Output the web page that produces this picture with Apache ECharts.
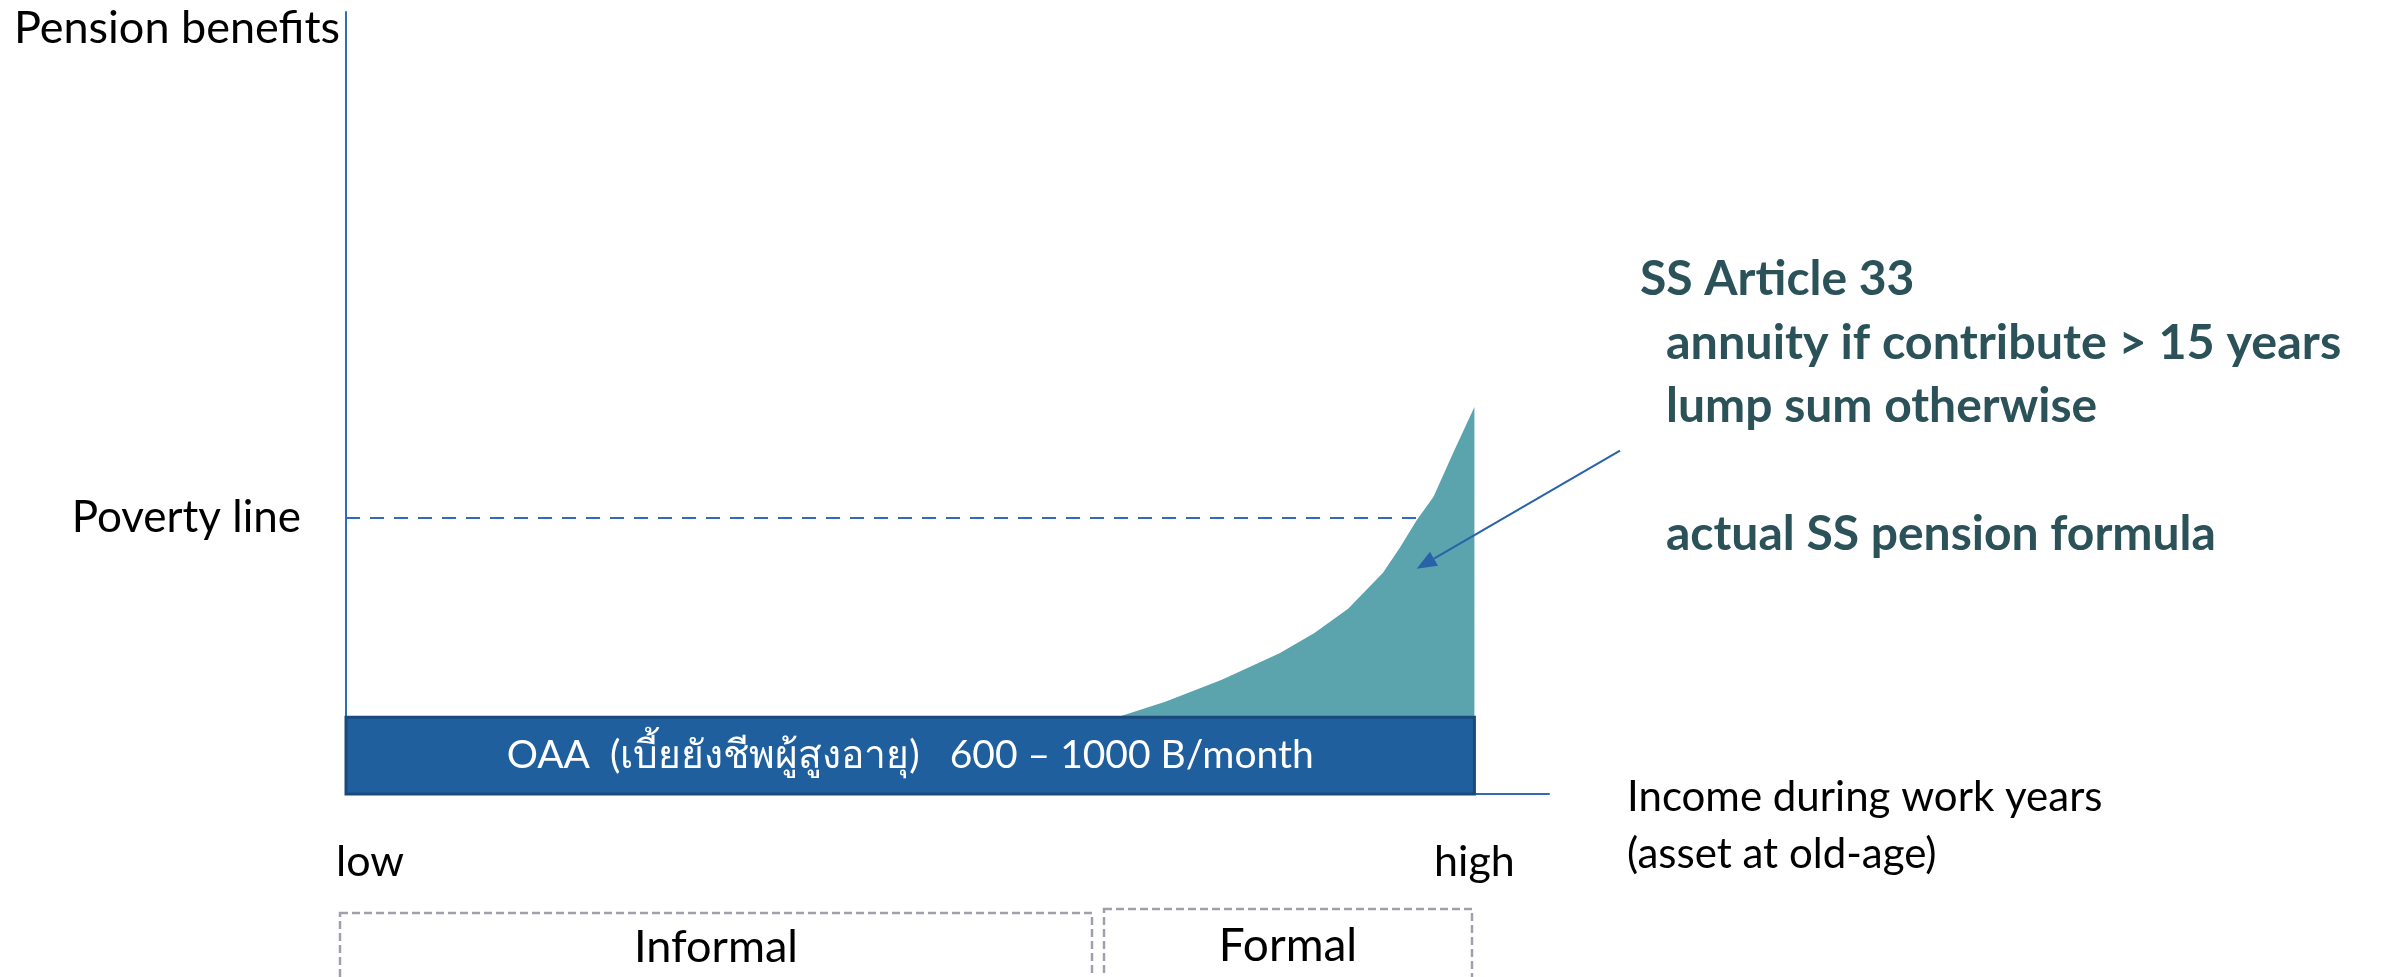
<!DOCTYPE html>
<html>
<head>
<meta charset="utf-8">
<script src="https://cdn.jsdelivr.net/npm/echarts@6/dist/echarts.min.js"></script>
<style>
  html, body { margin: 0; padding: 0; background: #fff; }
  #chart { width: 2381px; height: 977px; }
</style>
</head>
<body>
<div id="chart"></div>
<script>
// Income during work years (0 = low, 100 = end of axis) vs pension benefits (0..100)
const xTickValues = [2.0, 93.8];
const xTickLabels = ['low', 'high'];
const povertyLevel = 35.3;
const povertyTickLabel = 'Poverty line';

// Old-age allowance (flat benefit) band
const oaaStart = 0;
const oaaEnd = 93.8;
const oaaLevel = 9.8;
const oaaLabel = 'OAA  (เบี้ยยังชีพผู้สูงอายุ)   600 – 1000 B/month';

// Social security pension curve (income, benefit)
const ssIncome  = [64.1, 68.1, 72.8, 77.6, 80.5, 83.3, 86.2, 87.6, 89.0, 90.4, 92.0, 93.8];
const ssBenefit = [9.8, 11.8, 14.6, 18.0, 20.6, 23.7, 28.3, 31.5, 35.0, 38.0, 43.5, 49.5];

// Poverty line stops where it meets the pension curve
const povertyEnd = 89.5;

// Arrow pointing at the SS pension area: [from, to]
const arrowFrom = [105.9, 43.9];
const arrowTo = [89.0, 28.8];

const annotationLines = [
  'SS Article 33',
  'annuity if contribute > 15 years',
  'lump sum otherwise',
  'actual SS pension formula'
];

const FONT = 'Lato, "Noto Sans", "DejaVu Sans", sans-serif';
const AXIS_BLUE = '#2f6db4';
const ARROW_BLUE = '#2a62a8';

const chart = echarts.init(document.getElementById('chart'), null, { renderer: 'canvas' });

const ssData = ssIncome.map((x, i) => [x, ssBenefit[i]]);

const textGraphics = [
  {
    type: 'text', x: 340, y: 28,
    style: { text: 'Pension benefits', align: 'right', verticalAlign: 'middle', fill: '#000', font: '45px ' + FONT }
  },
  {
    type: 'text', x: 1627, y: 797,
    style: { text: 'Income during work years', align: 'left', verticalAlign: 'middle', fill: '#000', font: '42px ' + FONT }
  },
  {
    type: 'text', x: 1627, y: 854,
    style: { text: '(asset at old-age)', align: 'left', verticalAlign: 'middle', fill: '#000', font: '42px ' + FONT }
  },
  {
    type: 'text', x: 1640, y: 280,
    style: { text: annotationLines[0], align: 'left', verticalAlign: 'middle', fill: '#2b5159', font: 'bold 48px ' + FONT }
  },
  {
    type: 'text', x: 1666, y: 343,
    style: { text: annotationLines[1], align: 'left', verticalAlign: 'middle', fill: '#2b5159', font: 'bold 48.5px ' + FONT }
  },
  {
    type: 'text', x: 1666, y: 407,
    style: { text: annotationLines[2], align: 'left', verticalAlign: 'middle', fill: '#2b5159', font: 'bold 48px ' + FONT }
  },
  {
    type: 'text', x: 1666, y: 535,
    style: { text: annotationLines[3], align: 'left', verticalAlign: 'middle', fill: '#2b5159', font: 'bold 48px ' + FONT }
  },
  {
    type: 'rect', shape: { x: 340, y: 913, width: 752, height: 120 },
    style: { fill: 'none', stroke: '#a39ead', lineWidth: 2.5, lineDash: [8, 4] }
  },
  {
    type: 'rect', shape: { x: 1104, y: 909, width: 368, height: 120 },
    style: { fill: 'none', stroke: '#a39ead', lineWidth: 2.5, lineDash: [8, 4] }
  },
  {
    type: 'text', x: 716, y: 947,
    style: { text: 'Informal', align: 'center', verticalAlign: 'middle', fill: '#000', font: '45px ' + FONT }
  },
  {
    type: 'text', x: 1288, y: 946,
    style: { text: 'Formal', align: 'center', verticalAlign: 'middle', fill: '#000', font: '46px ' + FONT }
  }
];

const option = {
  animation: false,
  backgroundColor: '#ffffff',
  textStyle: { fontFamily: FONT },
  grid: { left: 346, right: 832, top: 12, bottom: 183, containLabel: false },
  xAxis: {
    type: 'value', min: 0, max: 100,
    axisLine: { show: true, lineStyle: { color: AXIS_BLUE, width: 2 } },
    axisTick: { show: false },
    splitLine: { show: false },
    axisLabel: {
      customValues: xTickValues,
      formatter: v => xTickLabels[xTickValues.indexOf(v)] || '',
      fontSize: 43, color: '#000', margin: 47, fontFamily: FONT
    }
  },
  yAxis: {
    type: 'value', min: 0, max: 100,
    axisLine: { show: true, lineStyle: { color: AXIS_BLUE, width: 2 } },
    axisTick: { show: false },
    splitLine: { show: false },
    axisLabel: {
      customValues: [povertyLevel],
      formatter: () => povertyTickLabel,
      fontSize: 44, color: '#000', margin: 45, fontFamily: FONT
    }
  },
  series: [
    {
      name: 'SS pension',
      type: 'line',
      data: ssData,
      symbol: 'none',
      lineStyle: { width: 0 },
      areaStyle: { color: '#5ba4ae', opacity: 1 },
      z: 1
    },
    {
      name: 'OAA',
      type: 'custom',
      data: [[oaaStart, oaaEnd, oaaLevel]],
      renderItem: function (params, api) {
        const p0 = api.coord([api.value(0), api.value(2)]);
        const p1 = api.coord([api.value(1), 0]);
        return {
          type: 'group',
          children: [
            {
              type: 'rect',
              shape: { x: p0[0], y: p0[1], width: p1[0] - p0[0], height: p1[1] - p0[1] },
              style: { fill: '#1f5f9e', stroke: '#1a4a7c', lineWidth: 3 }
            },
            {
              type: 'text',
              style: {
                text: oaaLabel,
                x: (p0[0] + p1[0]) / 2,
                y: (p0[1] + p1[1]) / 2,
                align: 'center', verticalAlign: 'middle',
                fill: '#ffffff', font: '39px ' + FONT
              }
            }
          ]
        };
      },
      z: 2
    },
    {
      name: 'Poverty line',
      type: 'line',
      data: [[0, povertyLevel], [povertyEnd, povertyLevel]],
      symbol: 'none',
      lineStyle: { color: AXIS_BLUE, width: 2, type: [14, 10] },
      z: 3
    }
  ],
  graphic: textGraphics
};

chart.setOption(option);

// Arrow from the annotation into the SS pension area, placed through the axes' scales
const pFrom = chart.convertToPixel({ gridIndex: 0 }, arrowFrom);
const pTo = chart.convertToPixel({ gridIndex: 0 }, arrowTo);
const len = Math.hypot(pTo[0] - pFrom[0], pTo[1] - pFrom[1]);
const ux = (pTo[0] - pFrom[0]) / len, uy = (pTo[1] - pFrom[1]) / len;
const headLen = 20, headHalf = 8;
const base = [pTo[0] - ux * headLen, pTo[1] - uy * headLen];
chart.setOption({
  graphic: textGraphics.concat([
    {
      type: 'line', z: 10,
      shape: { x1: pFrom[0], y1: pFrom[1], x2: base[0], y2: base[1] },
      style: { stroke: ARROW_BLUE, lineWidth: 2 }
    },
    {
      type: 'polygon', z: 10,
      shape: { points: [
        pTo,
        [base[0] - uy * headHalf, base[1] + ux * headHalf],
        [base[0] + uy * headHalf, base[1] - ux * headHalf]
      ] },
      style: { fill: ARROW_BLUE }
    }
  ])
});
</script>
</body>
</html>
